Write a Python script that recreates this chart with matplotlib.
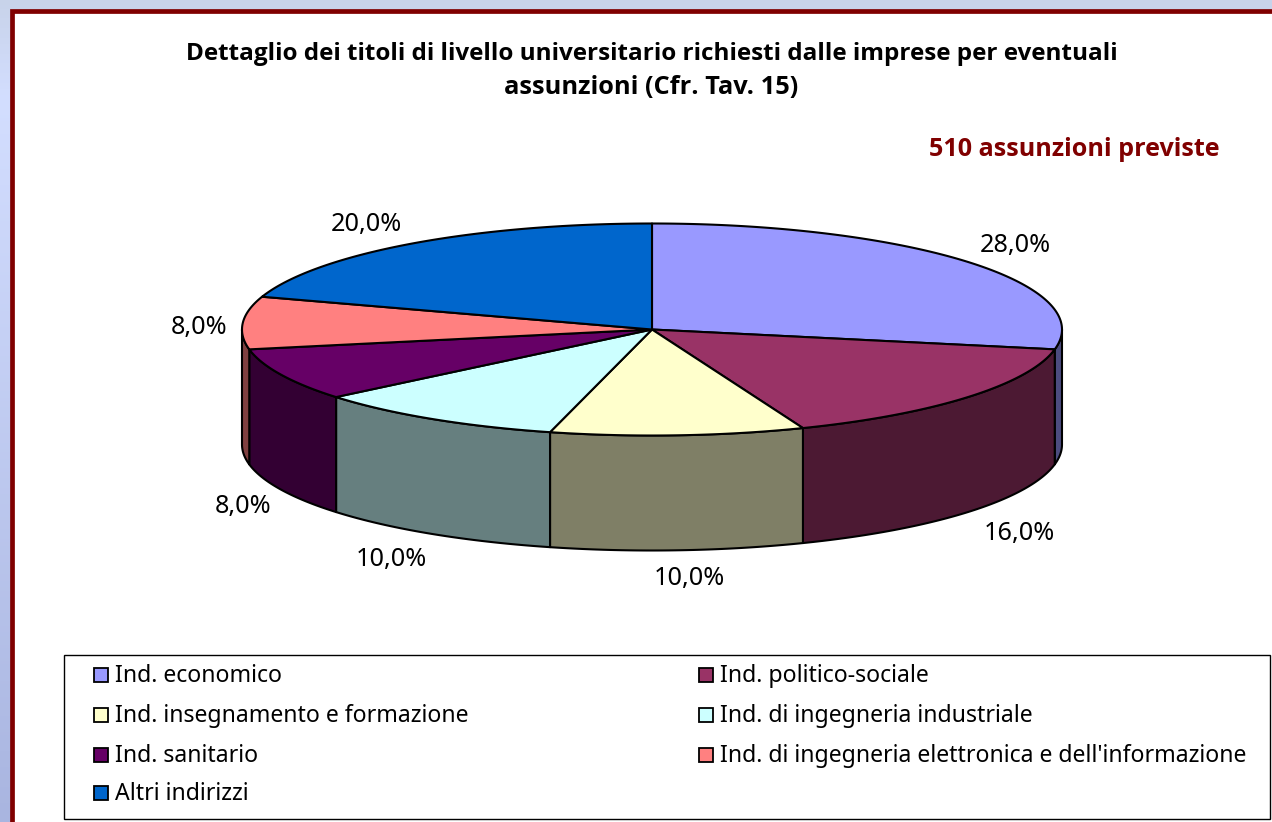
'''
Pseudo 3D pie of the university level titles
requested by firms
'''

#########################################

import numpy as np
import matplotlib
matplotlib.use("Agg")
import matplotlib.pyplot as plt
from matplotlib.colors import LinearSegmentedColormap
from matplotlib.patches import Polygon, Rectangle

#########################################

# data
categories=["Ind. economico","Ind. politico-sociale","Ind. insegnamento e formazione",
            "Ind. di ingegneria industriale","Ind. sanitario",
            "Ind. di ingegneria elettronica e dell'informazione","Altri indirizzi"]
values=[28.0,16.0,10.0,10.0,8.0,8.0,20.0]
titleLines=["Dettaglio dei titoli di livello universitario richiesti dalle imprese per eventuali",
            "assunzioni (Cfr. Tav. 15)"]
subTitle="510 assunzioni previste"

# styles
topCols=["#9999FF","#993366","#FFFFCC","#CCFFFF","#660066","#FF8080","#0066CC"]
sideCols=["#4C4C7F","#4C1933","#7F7F66","#667F7F","#330033","#7F4040","#003366"]
labelPos=[(1015,245),(1019,533),(689,578),(391,559),(243,506),(199,327),(366,224)]
legendPos=[(93,675),(698,675),(93,715),(698,715),(93,755),(698,755),(93,793)]

cx,cy,rx,ry,depth=652.0,329.5,410.0,106.0,115.0
W,H=1272,822
textFont="Noto Sans"
boldFont="Open Sans"
lw=1.5


#########################################

def rimPoints(a0,a1):
  '''Points on the top rim, angles clockwise from 12 o'clock'''
  t=np.radians(np.linspace(a0,a1,max(int(abs(a1-a0)*2),2)))
  return np.column_stack((cx+rx*np.sin(t),cy-ry*np.cos(t)))


#########################################

def drawBackground(ax):
  '''Blue page behind the white panel'''
  cmap=LinearSegmentedColormap.from_list("page",[(0.0,"#C8D3EA"),(0.12,"#D3DEFF"),(1.0,"#A9B5E0")])
  grad=np.linspace(0,1,256).reshape(-1,1)
  ax.imshow(grad,cmap=cmap,extent=[0,W,H,0],aspect='auto',zorder=0)
  ax.add_patch(Rectangle((12,11),W,H,facecolor="white",edgecolor="#800000",linewidth=3.4,zorder=1))
  return


#########################################

def drawPie(ax):
  '''Sides first, then the top'''
  edges=360.0*np.cumsum([0]+values)/np.sum(values)

  # sides, only the front half of the disc is seen
  for i in range(len(values)):
    a0=max(edges[i],90.0)
    a1=min(edges[i+1],270.0)
    if(a1<=a0):
      continue
    top=rimPoints(a0,a1)
    low=top[::-1]+[0,depth]
    ax.add_patch(Polygon(np.vstack((top,low)),closed=True,facecolor=sideCols[i],
                         edgecolor="black",linewidth=lw,joinstyle='round',zorder=2))

  # top
  for i in range(len(values)):
    pts=np.vstack(([[cx,cy]],rimPoints(edges[i],edges[i+1])))
    ax.add_patch(Polygon(pts,closed=True,facecolor=topCols[i],
                         edgecolor="black",linewidth=lw,joinstyle='round',zorder=3))

  # labels
  for v,(x,y) in zip(values,labelPos):
    ax.text(x,y,("%.1f%%"%v).replace(".",","),ha='center',va='center',
            fontsize=18.2,family=textFont,color="black",zorder=4)
  return


#########################################

def drawLegend(ax):
  '''Boxed key in two columns'''
  ax.add_patch(Rectangle((63.5,655),1206.5,164,facecolor="white",edgecolor="black",linewidth=1.0,zorder=2))
  for name,col,(x,y) in zip(categories,topCols,legendPos):
    ax.add_patch(Rectangle((x+0.5,y-7),14,14,facecolor=col,edgecolor="black",linewidth=1.3,zorder=3))
    ax.text(x+22,y+1,name,ha='left',va='center',fontsize=16.6,family=textFont,color="black",zorder=4)
  return


#########################################

if __name__ == '__main__':
  '''Main block'''

  fig=plt.figure(figsize=(W/100,H/100),dpi=100)
  ax=fig.add_axes([0,0,1,1])
  drawBackground(ax)
  ax.set_xlim(0,W)
  ax.set_ylim(H,0)
  ax.axis('off')

  drawPie(ax)
  drawLegend(ax)

  ax.text(651.5,54,titleLines[0],ha='center',va='center',fontsize=17.45,fontweight='bold',family=boldFont,zorder=4)
  ax.text(651.5,87,titleLines[1],ha='center',va='center',fontsize=18.3,fontweight='bold',family=boldFont,zorder=4)
  ax.text(1220,150,subTitle,ha='right',va='center',fontsize=18.1,fontweight='bold',family=boldFont,color="#800000",zorder=4)

  plt.savefig("out.png",dpi=100)
  plt.close()

#########################################
